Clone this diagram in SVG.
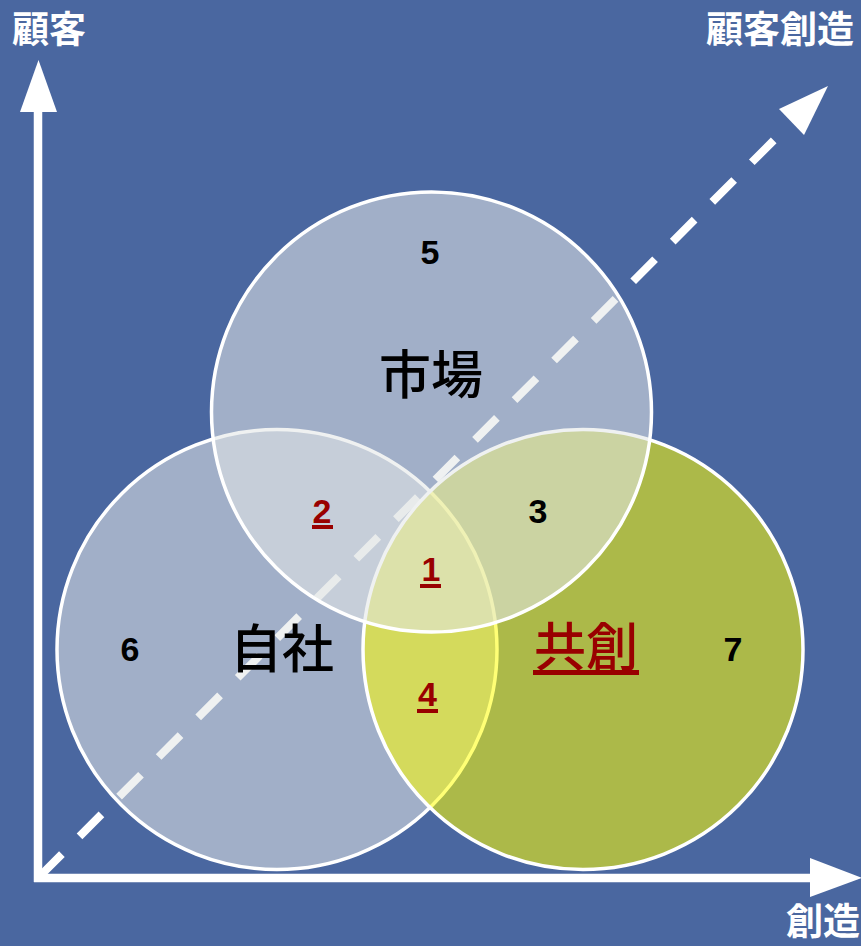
<svg xmlns="http://www.w3.org/2000/svg" width="861" height="946" viewBox="0 0 861 946">
  <style>
    .title { font-family: "Noto Sans CJK JP", "Noto Sans CJK SC", sans-serif; font-weight: 700; font-size: 37px; fill: #ffffff; }
    .big { font-family: "Noto Sans CJK JP", "Noto Sans CJK SC", sans-serif; font-weight: 500; font-size: 52px; text-anchor: middle; }
    .num { font-family: "Liberation Sans", Arial, sans-serif; font-weight: 700; font-size: 34px; text-anchor: middle; }
    .black { fill: #000000; }
    .red { fill: #990000; }
    .circle { stroke: #ffffff; stroke-width: 3.5; }
    .pale { fill: #E3E6E6; fill-opacity: 0.57; }
    .yellow { fill: #FFFF00; fill-opacity: 0.54; }
    .axis { stroke: #ffffff; stroke-width: 8.5; fill: none; }
    .dash { stroke: #ffffff; stroke-width: 8; stroke-dasharray: 31 25; fill: none; }
    .head { fill: #ffffff; }
  </style>
  <rect x="0" y="0" width="861" height="946" fill="#4A67A0"/>

  <g id="connectors">
    <g id="diagonal-arrow">
      <line class="dash" x1="40" y1="876" x2="790" y2="124"/>
      <polygon class="head" points="828,86 779,109 804,135"/>
    </g>
    <g id="vertical-axis">
      <line class="axis" x1="38" y1="882" x2="38" y2="108"/>
      <polygon class="head" points="38.5,60 20,112 57,112"/>
    </g>
    <g id="horizontal-axis">
      <line class="axis" x1="34" y1="878" x2="812" y2="878"/>
      <polygon class="head" points="862,878 810,858 810,897"/>
    </g>
  </g>

  <g id="node-self">
    <circle class="circle pale" cx="277" cy="649.5" r="220"/>
  </g>
  <g id="node-cocreation">
    <circle class="circle yellow" cx="583" cy="649.5" r="220"/>
  </g>
  <g id="node-market">
    <circle class="circle pale" cx="431.5" cy="412" r="220"/>
  </g>

  <g id="labels">
    <text class="big black" x="431" y="394">市場</text>
    <text class="big black" x="282" y="668">自社</text>
    <text class="big red" x="586" y="666">共創</text>
    <rect class="red" x="533" y="670" width="106" height="5"/>

    <text class="num black" x="430" y="264">5</text>
    <text class="num black" x="538" y="523">3</text>
    <text class="num black" x="130" y="661">6</text>
    <text class="num black" x="733" y="661">7</text>

    <text class="num red" x="322" y="523">2</text>
    <rect class="red" x="312" y="525" width="21" height="4"/>
    <text class="num red" x="431" y="581">1</text>
    <rect class="red" x="420" y="584" width="21" height="4"/>
    <text class="num red" x="427.5" y="706">4</text>
    <rect class="red" x="417" y="709" width="21" height="4"/>
  </g>

  <g id="axis-titles">
    <text class="title" x="12" y="43">顧客</text>
    <text class="title" x="706" y="43">顧客創造</text>
    <text class="title" x="786" y="935">創造</text>
  </g>
</svg>
